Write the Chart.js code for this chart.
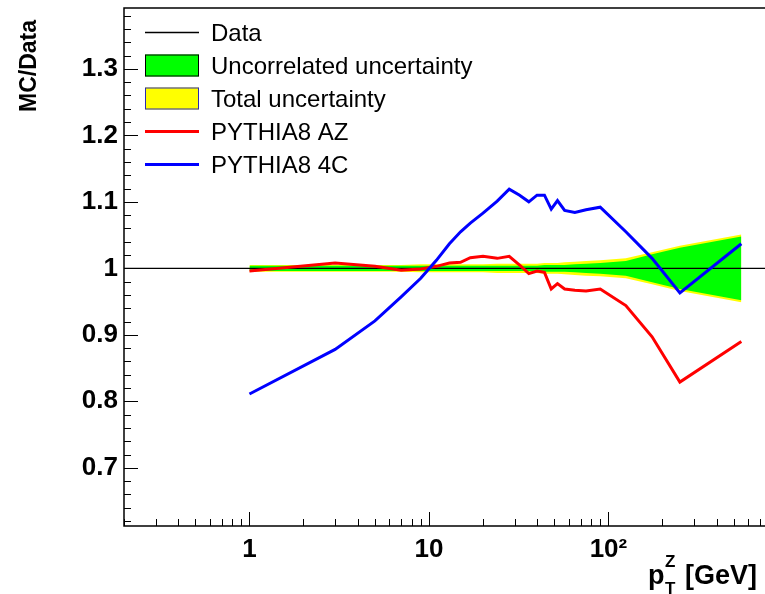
<!DOCTYPE html>
<html>
<head>
<meta charset="utf-8">
<script src="https://cdn.jsdelivr.net/npm/chart.js@4/dist/chart.umd.min.js"></script>
<style>
html, body { margin: 0; padding: 0; background: #fff; overflow: hidden; }
</style>
</head>
<body>
<canvas id="myChart" width="765" height="594"></canvas>
<script>
// pT^Z bin centres [GeV]
var ptZ = [1, 3, 5, 7, 9, 11, 13, 15, 17, 20, 24, 28, 32, 36, 40, 44, 48, 52, 57, 65, 75, 90, 125, 175, 250, 550];

// MC/Data ratios
var pythiaAZ = [0.996, 1.008, 1.003, 0.997, 0.999, 1.003, 1.008, 1.009, 1.016, 1.018, 1.015, 1.018, 1.005, 0.992, 0.996, 0.994, 0.969, 0.977, 0.969, 0.967, 0.966, 0.969, 0.944, 0.897, 0.829, 0.890];
var pythia4C = [0.811, 0.878, 0.921, 0.957, 0.985, 1.012, 1.037, 1.055, 1.068, 1.083, 1.101, 1.119, 1.110, 1.100, 1.110, 1.110, 1.089, 1.102, 1.087, 1.084, 1.088, 1.092, 1.055, 1.015, 0.963, 1.037];

// half widths of the uncertainty bands around Data = 1
var uncorrErr = [0.004, 0.004, 0.004, 0.004, 0.004, 0.004, 0.004, 0.004, 0.004, 0.004, 0.004, 0.004, 0.004, 0.004, 0.004, 0.005, 0.005, 0.005, 0.005, 0.006, 0.007, 0.008, 0.011, 0.021, 0.031, 0.048];
var totalErr = [0.005, 0.005, 0.005, 0.005, 0.006, 0.006, 0.006, 0.006, 0.006, 0.006, 0.007, 0.007, 0.007, 0.007, 0.007, 0.008, 0.008, 0.008, 0.009, 0.010, 0.011, 0.012, 0.015, 0.024, 0.034, 0.051];
var dataRatio = 1;

var xTicks = [1, 10, 100];
var xTickLabels = ["1", "10", "10\u00b2"];
var yTicks = [0.7, 0.8, 0.9, 1.0, 1.1, 1.2, 1.3];
var yTickLabels = ["0.7", "0.8", "0.9", "1", "1.1", "1.2", "1.3"];

var legendLabels = ["Data", "Uncorrelated uncertainty", "Total uncertainty", "PYTHIA8 AZ", "PYTHIA8 4C"];
var yTitle = "MC/Data";

var xMin = 0.2, xMax = 745, yMin = 0.6125, yMax = 1.3915;

function pts(ys) {
  return ptZ.map(function (x, i) { return { x: x, y: ys[i] }; });
}
function band(err, sign) {
  return err.map(function (e) { return dataRatio + sign * e; });
}

var FONT = "'Liberation Sans', Arial, Helvetica, sans-serif";

var rootStyle = {
  id: "rootStyle",
  afterDraw: function (chart) {
    var ctx = chart.ctx, a = chart.chartArea;
    var xs = chart.scales.x, ys = chart.scales.y;
    ctx.save();

    // frame
    ctx.strokeStyle = "#000";
    ctx.lineWidth = 1.5;
    ctx.beginPath();
    ctx.moveTo(a.right + 2, a.top);
    ctx.lineTo(a.left, a.top);
    ctx.lineTo(a.left, a.bottom);
    ctx.lineTo(a.right + 2, a.bottom);
    ctx.stroke();

    // tick marks, pointing inwards
    ctx.lineWidth = 1;
    ctx.beginPath();
    for (var d = -1; d <= 3; d++) {
      for (var m = 1; m <= 9; m++) {
        var v = m * Math.pow(10, d);
        if (v < xMin || v > xMax) continue;
        var px = Math.round(xs.getPixelForValue(v)) + 0.5;
        var len = m === 1 ? 14 : 7;
        ctx.moveTo(px, a.bottom);
        ctx.lineTo(px, a.bottom - len);
      }
    }
    for (var k = 31; k <= 69; k++) {
      var py = Math.round(ys.getPixelForValue(k * 0.02)) + 0.5;
      var l = k % 5 === 0 ? 14 : 7;
      ctx.moveTo(a.left, py);
      ctx.lineTo(a.left + l, py);
    }
    ctx.stroke();

    // y title
    ctx.fillStyle = "#000";
    ctx.font = "bold 23px " + FONT;
    ctx.save();
    ctx.translate(36, 20);
    ctx.rotate(-Math.PI / 2);
    ctx.textAlign = "right";
    ctx.textBaseline = "alphabetic";
    ctx.fillText(yTitle, 0, 0);
    ctx.restore();

    // x title: p_T^Z [GeV]
    ctx.textAlign = "left";
    ctx.textBaseline = "alphabetic";
    ctx.font = "bold 27px " + FONT;
    ctx.fillText("p", 648, 584);
    ctx.font = "bold 17px " + FONT;
    ctx.fillText("Z", 665, 567);
    ctx.fillText("T", 665, 594);
    ctx.font = "bold 27px " + FONT;
    ctx.fillText("[GeV]", 685, 584);

    // legend
    var rowY = 32.5, step = 33, sx = 145, sw = 54, tx = 211;
    ctx.font = "24px " + FONT;
    legendLabels.forEach(function (lab, i) {
      var cy = rowY + i * step;
      if (i === 0) {
        ctx.strokeStyle = "#000"; ctx.lineWidth = 1.5;
        ctx.beginPath(); ctx.moveTo(sx, cy); ctx.lineTo(sx + sw, cy); ctx.stroke();
      } else if (i === 1 || i === 2) {
        ctx.fillStyle = i === 1 ? "#00ff00" : "#ffff00";
        ctx.fillRect(sx, cy - 11, sw, 22);
        ctx.strokeStyle = i === 1 ? "#000" : "#2a2ab0";
        ctx.lineWidth = 1;
        ctx.strokeRect(sx + 0.5, cy - 11 + 0.5, sw - 1, 21);
      } else {
        ctx.strokeStyle = i === 3 ? "#ff0000" : "#0000ff"; ctx.lineWidth = 3;
        ctx.beginPath(); ctx.moveTo(sx, cy); ctx.lineTo(sx + sw, cy); ctx.stroke();
      }
      ctx.fillStyle = "#000";
      ctx.fillText(lab, tx, cy + 8.6);
    });

    ctx.restore();
  }
};

var ctx = document.getElementById("myChart").getContext("2d");
var myChart = new Chart(ctx, {
  type: "line",
  data: {
    datasets: [
      { label: "PYTHIA8 4C", data: pts(pythia4C), borderColor: "#0000ff", borderWidth: 3, fill: false },
      { label: "PYTHIA8 AZ", data: pts(pythiaAZ), borderColor: "#ff0000", borderWidth: 3, fill: false },
      { label: "Data", data: [{ x: xMin, y: dataRatio }, { x: xMax, y: dataRatio }], borderColor: "#000", borderWidth: 1.3, fill: false },
      { label: "unc up", data: pts(band(uncorrErr, 1)), borderWidth: 0, borderColor: "rgba(0,0,0,0)", backgroundColor: "#00ff00", fill: "+1" },
      { label: "unc down", data: pts(band(uncorrErr, -1)), borderWidth: 0, borderColor: "rgba(0,0,0,0)", fill: false },
      { label: "tot up", data: pts(band(totalErr, 1)), borderWidth: 0, borderColor: "rgba(0,0,0,0)", backgroundColor: "#ffff00", fill: "+1" },
      { label: "tot down", data: pts(band(totalErr, -1)), borderWidth: 0, borderColor: "rgba(0,0,0,0)", fill: false },
    ],
  },
  options: {
    responsive: false,
    animation: false,
    layout: { padding: { top: 8, right: 0, bottom: 0, left: 0 } },
    elements: { point: { radius: 0 }, line: { tension: 0 } },
    plugins: { legend: { display: false }, tooltip: { enabled: false } },
    scales: {
      x: {
        type: "logarithmic",
        min: xMin,
        max: xMax,
        grid: { display: false, drawTicks: false },
        border: { display: false },
        afterBuildTicks: function (s) { s.ticks = xTicks.map(function (v) { return { value: v }; }); },
        afterFit: function (s) { s.height = 68; s.paddingLeft = 0; s.paddingRight = 0; },
        ticks: {
          autoSkip: false,
          maxRotation: 0,
          padding: 8,
          color: "#000",
          font: { family: FONT, size: 26, weight: "bold" },
          callback: function (v, i) { return xTickLabels[i]; },
        },
      },
      y: {
        type: "linear",
        min: yMin,
        max: yMax,
        grid: { display: false, drawTicks: false },
        border: { display: false },
        afterBuildTicks: function (s) { s.ticks = yTicks.map(function (v) { return { value: v }; }); },
        afterFit: function (s) { s.width = 124; s.paddingTop = 0; s.paddingBottom = 0; },
        ticks: {
          padding: 6,
          color: "#000",
          font: { family: FONT, size: 26, weight: "bold" },
          callback: function (v, i) { return yTickLabels[i]; },
        },
      },
    },
  },
  plugins: [rootStyle],
});
</script>
</body>
</html>
